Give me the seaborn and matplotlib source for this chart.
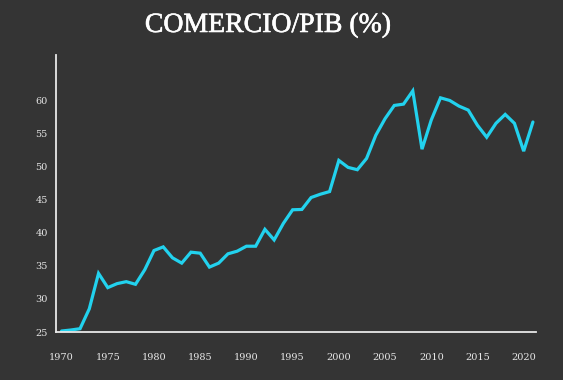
import numpy as np
import pandas as pd
import matplotlib
matplotlib.use("Agg")
import matplotlib.pyplot as plt
import matplotlib.patheffects as pe
import seaborn as sns

years = list(range(1970, 2022))
trade_gdp = [25.15, 25.3, 25.5, 28.5, 33.85, 31.7, 32.3, 32.6, 32.2, 34.4,
             37.3, 37.85, 36.2, 35.4, 37.05, 36.9, 34.8, 35.4, 36.8, 37.2,
             37.95, 37.95, 40.5, 38.9, 41.4, 43.45, 43.5, 45.3, 45.8, 46.2,
             50.9, 49.85, 49.5, 51.2, 54.7, 57.2, 59.2, 59.4, 61.4, 52.6,
             57.0, 60.35, 59.95, 59.1, 58.5, 56.2, 54.4, 56.5, 57.85, 56.5,
             52.3, 56.7]
xticks = [1970, 1975, 1980, 1985, 1990, 1995, 2000, 2005, 2010, 2015, 2020]
yticks = [25, 30, 35, 40, 45, 50, 55, 60]
title = "COMERCIO/PIB (%)"

df = pd.DataFrame({"year": years, "value": trade_gdp})

sns.set_theme(style="dark")
plt.rcParams['font.family'] = ['DejaVu Serif']

bg = "#343434"
fig = plt.figure(figsize=(5.63, 3.80), dpi=100, facecolor=bg)
ax = fig.add_axes([0.0995, 0.1263, 0.852, 0.7287])
ax.set_facecolor(bg)

sns.lineplot(data=df, x="year", y="value", ax=ax, color="#22d2ee",
             linewidth=2.3, solid_joinstyle="miter")

ax.set_xlim(1969.4, 2021.3)
ax.set_ylim(25, 66.8)
ax.set_xticks(xticks)
ax.set_yticks(yticks)
ax.set_xticklabels([str(t) for t in xticks])
ax.set_yticklabels([str(t) for t in yticks])
ax.tick_params(axis="both", length=0, colors="#e6e6e6", labelsize=7)
ax.tick_params(axis="x", pad=15)
ax.tick_params(axis="y", pad=6)
ax.set_xlabel("")
ax.set_ylabel("")
ax.grid(False)
for s in ["top", "right"]:
    ax.spines[s].set_visible(False)
for s in ["left", "bottom"]:
    ax.spines[s].set_visible(True)
    ax.spines[s].set_color("#e8e8e8")
    ax.spines[s].set_linewidth(1.3)

fig.text(0.476, 0.933, title, ha="center", va="center", color="white",
         fontsize=20, family=["Liberation Serif"],
         path_effects=[pe.withStroke(linewidth=0.45, foreground="white")])

fig.savefig("out.png", dpi=100, facecolor=bg)
